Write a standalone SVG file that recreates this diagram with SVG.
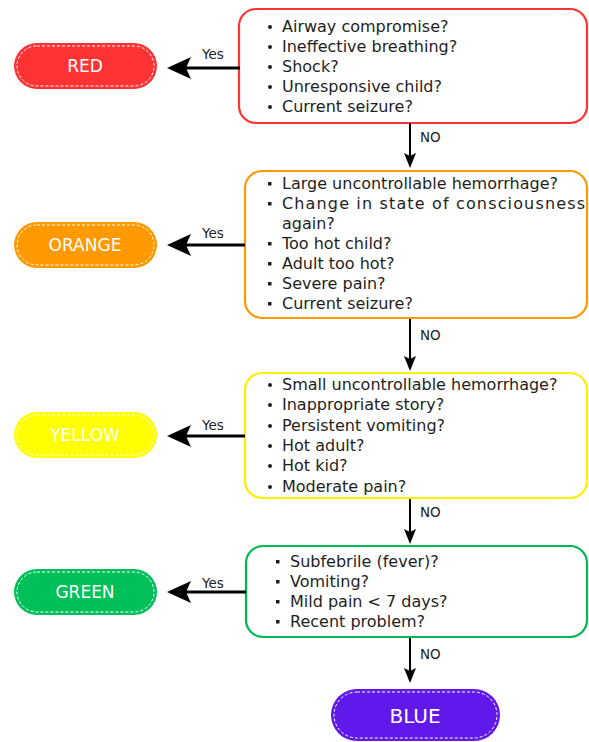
<svg xmlns="http://www.w3.org/2000/svg" width="589" height="742" viewBox="0 0 589 742">
<style>
.q{font-family:"DejaVu Sans","Liberation Sans",sans-serif;font-size:16px;fill:#1e1e1e}
.pill{font-family:"DejaVu Sans","Liberation Sans",sans-serif;font-size:17px;fill:#fff;text-anchor:middle}
.lbl{font-family:"DejaVu Sans","Liberation Sans",sans-serif;font-size:13.5px;fill:#222}
.box{fill:#fff;stroke-width:2.2}
.dash{fill:none;stroke:#fff;stroke-width:1;stroke-dasharray:3 2}
.yes{stroke:#000;stroke-width:3;fill:none}
.no{stroke:#000;stroke-width:2;fill:none}
.bul{fill:#1e1e1e}
</style>
<rect width="589" height="742" fill="#fff"/>

<g id="q-red">
<rect class="box" x="239" y="9" width="348" height="114" rx="17" stroke="#ff3333"/>
<g class="bul"><circle cx="270" cy="27" r="2"/><circle cx="270" cy="47" r="2"/><circle cx="270" cy="67" r="2"/><circle cx="270" cy="87" r="2"/><circle cx="270" cy="107" r="2"/></g>
<text class="q" x="282" y="32">Airway compromise?</text>
<text class="q" x="282" y="52">Ineffective breathing?</text>
<text class="q" x="282" y="72">Shock?</text>
<text class="q" x="282" y="92">Unresponsive child?</text>
<text class="q" x="282" y="112">Current seizure?</text>
</g>

<g id="q-orange">
<rect class="box" x="245" y="171" width="342" height="147" rx="17" stroke="#ff9900"/>
<g class="bul"><rect x="268" y="182" width="3.5" height="3.5"/><rect x="268" y="202" width="3.5" height="3.5"/><rect x="268" y="242" width="3.5" height="3.5"/><rect x="268" y="262" width="3.5" height="3.5"/><rect x="268" y="282" width="3.5" height="3.5"/><rect x="268" y="302" width="3.5" height="3.5"/></g>
<text class="q" x="282" y="189">Large uncontrollable hemorrhage?</text>
<text class="q" x="282" y="209" textLength="303" lengthAdjust="spacing">Change in state of consciousness</text>
<text class="q" x="282" y="229">again?</text>
<text class="q" x="282" y="249">Too hot child?</text>
<text class="q" x="282" y="269">Adult too hot?</text>
<text class="q" x="282" y="289">Severe pain?</text>
<text class="q" x="282" y="309">Current seizure?</text>
</g>

<g id="q-yellow">
<rect class="box" x="245" y="373" width="342" height="125" rx="17" stroke="#ffee00"/>
<g class="bul"><circle cx="270" cy="385" r="2"/><circle cx="270" cy="405" r="2"/><circle cx="270" cy="426" r="2"/><circle cx="270" cy="446" r="2"/><circle cx="270" cy="466" r="2"/><circle cx="270" cy="487" r="2"/></g>
<text class="q" x="282" y="390">Small uncontrollable hemorrhage?</text>
<text class="q" x="282" y="410">Inappropriate story?</text>
<text class="q" x="282" y="431">Persistent vomiting?</text>
<text class="q" x="282" y="451">Hot adult?</text>
<text class="q" x="282" y="471">Hot kid?</text>
<text class="q" x="282" y="492">Moderate pain?</text>
</g>

<g id="q-green">
<rect class="box" x="246" y="546" width="341" height="91" rx="17" stroke="#00b853"/>
<g class="bul"><rect x="276" y="560" width="3.5" height="3.5"/><rect x="276" y="580" width="3.5" height="3.5"/><rect x="276" y="600" width="3.5" height="3.5"/><rect x="276" y="620" width="3.5" height="3.5"/></g>
<text class="q" x="290" y="567">Subfebrile (fever)?</text>
<text class="q" x="290" y="587">Vomiting?</text>
<text class="q" x="290" y="607">Mild pain &lt; 7 days?</text>
<text class="q" x="290" y="627">Recent problem?</text>
</g>

<g id="red">
<rect x="14" y="43" width="143" height="46" rx="23" fill="#ff3333"/>
<rect class="dash" x="17" y="46" width="137" height="40" rx="20"/>
<text class="pill" x="85" y="72">RED</text>
</g>
<g id="orange">
<rect x="14" y="222" width="143" height="46" rx="23" fill="#ff9900"/>
<rect class="dash" x="17" y="225" width="137" height="40" rx="20"/>
<text class="pill" x="85" y="251">ORANGE</text>
</g>
<g id="yellow">
<rect x="14" y="412" width="143" height="46" rx="23" fill="#ffff00"/>
<rect class="dash" x="17" y="415" width="137" height="40" rx="20"/>
<text class="pill" x="85" y="441">YELLOW</text>
</g>
<g id="green">
<rect x="14" y="569" width="143" height="46" rx="23" fill="#00c05a"/>
<rect class="dash" x="17" y="572" width="137" height="40" rx="20"/>
<text class="pill" x="85" y="598">GREEN</text>
</g>
<g id="blue">
<rect x="331" y="689" width="169" height="52" rx="26" fill="#6118ea"/>
<rect class="dash" x="334" y="692" width="163" height="46" rx="23"/>
<text class="pill" x="415" y="723" style="font-size:20px">BLUE</text>
</g>

<g id="connectors">
<path class="yes" d="M240 68H186"/><path d="M167 68L191 57L186 68L191 79Z"/>
<path class="yes" d="M245 245H186"/><path d="M167 245L191 234L186 245L191 256Z"/>
<path class="yes" d="M245 436H186"/><path d="M167 436L191 425L186 436L191 447Z"/>
<path class="yes" d="M246 592H186"/><path d="M167 592L191 581L186 592L191 603Z"/>
<text class="lbl" x="202" y="59">Yes</text>
<text class="lbl" x="202" y="238">Yes</text>
<text class="lbl" x="202" y="430">Yes</text>
<text class="lbl" x="202" y="588">Yes</text>
<path class="no" d="M410 123V157"/><path d="M410 168L404 153L410 156L416 153Z"/>
<path class="no" d="M410 319V360"/><path d="M410 371L404 356L410 359L416 356Z"/>
<path class="no" d="M410 499V533"/><path d="M410 544L404 529L410 532L416 529Z"/>
<path class="no" d="M410 638V672"/><path d="M410 683L404 668L410 671L416 668Z"/>
<text class="lbl" x="420" y="142">NO</text>
<text class="lbl" x="420" y="340">NO</text>
<text class="lbl" x="420" y="517">NO</text>
<text class="lbl" x="420" y="659">NO</text>
</g>
</svg>
